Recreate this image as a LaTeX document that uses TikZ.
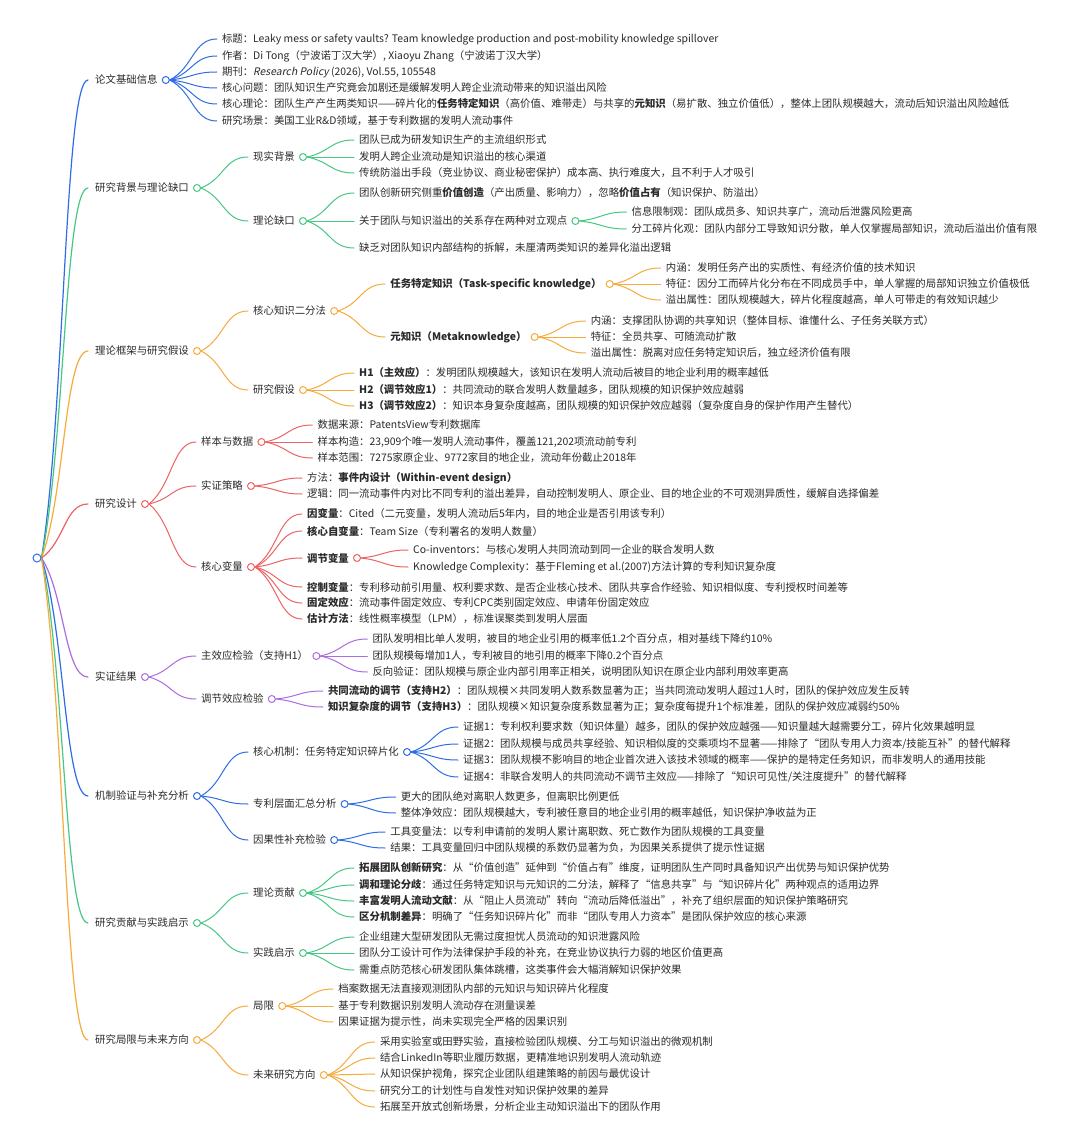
\documentclass[tikz,border=0pt]{standalone}
\usepackage{fontspec}
\setmainfont{Noto Sans CJK SC}
\newfontfamily\slantf[FakeSlant=0.2]{Noto Sans CJK SC}
\usetikzlibrary{calc}
\definecolor{cb}{RGB}{47,109,230}
\definecolor{cg}{RGB}{72,199,132}
\definecolor{co}{RGB}{246,171,60}
\definecolor{cr}{RGB}{236,100,100}
\definecolor{cp}{RGB}{170,110,225}
\definecolor{txt}{RGB}{42,42,42}
\pgfdeclarelayer{bg}
\pgfdeclarelayer{paper}
\pgfsetlayers{paper,bg,main}
\tikzset{
  lbl/.style={anchor=west, inner sep=0pt, text=txt, font=\fontsize{10.4}{12}\selectfont},
  knob/.style={circle, draw=#1, fill=white, line width=1pt, minimum size=7pt, inner sep=0pt},
  wire/.style={draw=#1, line width=1pt, line cap=round},
  trunkwire/.style={draw=#1, line width=1.2pt, line cap=round},
}
\newcommand\link[4][wire]{\begin{pgfonlayer}{bg}\draw[#1=#2] let \p1=(#3), \p2=(#4), \p3=($(\p1)!0.5!(\p2)$), \p4=($(\p1)!0.3!(\p2)$) in (\p1) .. controls (\x3,\y4) and (\x3,\y2) .. (\p2);\end{pgfonlayer}}
\newcommand\hub[2]{\node[knob=#2] (#1k) at ([xshift=8pt]#1.east) {}; \coordinate (#1c) at ([xshift=56pt]#1k.center);}
\newcommand\kid[5]{\node[lbl] (#1) at (#2c |- 0,#4) {#5}; \link{#3}{#2k.east}{[xshift=-5pt]#1.west}}
\newcommand\mainbranch[4]{\node[lbl] (#1) at (95,#3) {#4}; \hub{#1}{#2} \link[trunkwire]{#2}{root.east}{[xshift=-7pt]#1.west}}
\begin{document}
\begin{tikzpicture}[x=1pt,y=-1pt]
\begin{pgfonlayer}{paper}
\fill[white] (0,0) rectangle (1080,1145);
\end{pgfonlayer}
\useasboundingbox (0,0) rectangle (1080,1145);
\node[knob=cb, minimum size=8pt] (root) at (37,558) {};

% ---------- Branch 1
\mainbranch{b1}{cb}{80}{论文基础信息}
\kid{b1a}{b1}{cb}{39}{标题：Leaky mess or safety vaults? Team knowledge production and post-mobility knowledge spillover}
\kid{b1b}{b1}{cb}{56}{作者：Di Tong（宁波诺丁汉大学）, Xiaoyu Zhang（宁波诺丁汉大学）}
\kid{b1c1}{b1}{cb}{72}{期刊：{\slantf Research Policy} (2026), Vol.55, 105548}
\kid{b1d}{b1}{cb}{88}{核心问题：团队知识生产究竟会加剧还是缓解发明人跨企业流动带来的知识溢出风险}
\kid{b1e}{b1}{cb}{104}{核心理论：团队生产产生两类知识——碎片化的\textbf{任务特定知识}（高价值、难带走）与共享的\textbf{元知识}（易扩散、独立价值低），整体上团队规模越大，流动后知识溢出风险越低}
\kid{b1f}{b1}{cb}{121}{研究场景：美国工业R\&D领域，基于专利数据的发明人流动事件}

% ---------- Branch 2
\mainbranch{b2}{cg}{188}{研究背景与理论缺口}
\kid{b2a}{b2}{cg}{157}{现实背景}
\hub{b2a}{cg}
\kid{b2a1}{b2a}{cg}{140}{团队已成为研发知识生产的主流组织形式}
\kid{b2a2}{b2a}{cg}{157}{发明人跨企业流动是知识溢出的核心渠道}
\kid{b2a3}{b2a}{cg}{173}{传统防溢出手段（竞业协议、商业秘密保护）成本高、执行难度大，且不利于人才吸引}
\kid{b2b}{b2}{cg}{221}{理论缺口}
\hub{b2b}{cg}
\kid{b2b1}{b2b}{cg}{193}{团队创新研究侧重\textbf{价值创造}（产出质量、影响力），忽略\textbf{价值占有}（知识保护、防溢出）}
\kid{b2b2}{b2b}{cg}{221}{关于团队与知识溢出的关系存在两种对立观点}
\hub{b2b2}{cg}
\kid{b2b2a}{b2b2}{cg}{212}{信息限制观：团队成员多、知识共享广，流动后泄露风险更高}
\kid{b2b2b}{b2b2}{cg}{229}{分工碎片化观：团队内部分工导致知识分散，单人仅掌握局部知识，流动后溢出价值有限}
\kid{b2b3}{b2b}{cg}{248}{缺乏对团队知识内部结构的拆解，未厘清两类知识的差异化溢出逻辑}

% ---------- Branch 3
\mainbranch{b3}{co}{351}{理论框架与研究假设}
\kid{b3a}{b3}{co}{311}{核心知识二分法}
\hub{b3a}{co}
\kid{b3a1}{b3a}{co}{284}{\textbf{任务特定知识（Task-specific knowledge）}}
\hub{b3a1}{co}
\kid{b3a1a}{b3a1}{co}{268}{内涵：发明任务产出的实质性、有经济价值的技术知识}
\kid{b3a1b}{b3a1}{co}{284}{特征：因分工而碎片化分布在不同成员手中，单人掌握的局部知识独立价值极低}
\kid{b3a1c}{b3a1}{co}{300}{溢出属性：团队规模越大，碎片化程度越高，单人可带走的有效知识越少}
\kid{b3a2}{b3a}{co}{337}{\textbf{元知识（Metaknowledge）}}
\hub{b3a2}{co}
\kid{b3a2a}{b3a2}{co}{321}{内涵：支撑团队协调的共享知识（整体目标、谁懂什么、子任务关联方式）}
\kid{b3a2b}{b3a2}{co}{337}{特征：全员共享、可随流动扩散}
\kid{b3a2c}{b3a2}{co}{353}{溢出属性：脱离对应任务特定知识后，独立经济价值有限}
\kid{b3b}{b3}{co}{390}{研究假设}
\hub{b3b}{co}
\kid{b3b1}{b3b}{co}{373}{\textbf{H1（主效应）}：发明团队规模越大，该知识在发明人流动后被目的地企业利用的概率越低}
\kid{b3b2}{b3b}{co}{390}{\textbf{H2（调节效应1）}：共同流动的联合发明人数量越多，团队规模的知识保护效应越弱}
\kid{b3b3}{b3b}{co}{406}{\textbf{H3（调节效应2）}：知识本身复杂度越高，团队规模的知识保护效应越弱（复杂度自身的保护作用产生替代）}

% ---------- Branch 4
\mainbranch{b4}{cr}{504}{研究设计}
\kid{b4a}{b4}{cr}{442}{样本与数据}
\hub{b4a}{cr}
\kid{b4a1}{b4a}{cr}{425}{数据来源：PatentsView专利数据库}
\kid{b4a2}{b4a}{cr}{442}{样本构造：23,909个唯一发明人流动事件，覆盖121,202项流动前专利}
\kid{b4a3}{b4a}{cr}{458}{样本范围：7275家原企业、9772家目的地企业，流动年份截止2018年}
\kid{b4b}{b4}{cr}{486}{实证策略}
\hub{b4b}{cr}
\kid{b4b1}{b4b}{cr}{478}{方法：\textbf{事件内设计（Within-event design）}}
\kid{b4b2}{b4b}{cr}{494}{逻辑：同一流动事件内对比不同专利的溢出差异，自动控制发明人、原企业、目的地企业的不可观测异质性，缓解自选择偏差}
\kid{b4c}{b4}{cr}{567}{核心变量}
\hub{b4c}{cr}
\kid{b4c1}{b4c}{cr}{514}{\textbf{因变量}：Cited（二元变量，发明人流动后5年内，目的地企业是否引用该专利）}
\kid{b4c2}{b4c}{cr}{531}{\textbf{核心自变量}：Team Size（专利署名的发明人数量）}
\kid{b4c3}{b4c}{cr}{558}{\textbf{调节变量}}
\hub{b4c3}{cr}
\kid{b4c3a}{b4c3}{cr}{550}{Co-inventors：与核心发明人共同流动到同一企业的联合发明人数}
\kid{b4c3b}{b4c3}{cr}{567}{Knowledge Complexity：基于Fleming et al.(2007)方法计算的专利知识复杂度}
\kid{b4c4}{b4c}{cr}{587}{\textbf{控制变量}：专利移动前引用量、权利要求数、是否企业核心技术、团队共享合作经验、知识相似度、专利授权时间差等}
\kid{b4c5}{b4c}{cr}{603}{\textbf{固定效应}：流动事件固定效应、专利CPC类别固定效应、申请年份固定效应}
\kid{b4c6}{b4c}{cr}{619}{\textbf{估计方法}：线性概率模型（LPM），标准误聚类到发明人层面}

% ---------- Branch 5
\mainbranch{b5}{cp}{677}{实证结果}
\kid{b5a}{b5}{cp}{656}{主效应检验（支持H1）}
\hub{b5a}{cp}
\kid{b5a1}{b5a}{cp}{639}{团队发明相比单人发明，被目的地企业引用的概率低1.2个百分点，相对基线下降约10\%}
\kid{b5a2}{b5a}{cp}{656}{团队规模每增加1人，专利被目的地引用的概率下降0.2个百分点}
\kid{b5a3}{b5a}{cp}{672}{反向验证：团队规模与原企业内部引用率正相关，说明团队知识在原企业内部利用效率更高}
\kid{b5b}{b5}{cp}{699}{调节效应检验}
\hub{b5b}{cp}
\kid{b5b1}{b5b}{cp}{691}{\textbf{共同流动的调节（支持H2）}：团队规模×共同发明人数系数显著为正；当共同流动发明人超过1人时，团队的保护效应发生反转}
\kid{b5b2}{b5b}{cp}{707}{\textbf{知识复杂度的调节（支持H3）}：团队规模×知识复杂度系数显著为正；复杂度每提升1个标准差，团队的保护效应减弱约50\%}

% ---------- Branch 6
\mainbranch{b6}{cb}{796}{机制验证与补充分析}
\kid{b6a}{b6}{cb}{752}{核心机制：任务特定知识碎片化}
\hub{b6a}{cb}
\kid{b6a1}{b6a}{cb}{727}{证据1：专利权利要求数（知识体量）越多，团队的保护效应越强——知识量越大越需要分工，碎片化效果越明显}
\kid{b6a2}{b6a}{cb}{744}{证据2：团队规模与成员共享经验、知识相似度的交乘项均不显著——排除了“团队专用人力资本/技能互补”的替代解释}
\kid{b6a3}{b6a}{cb}{760}{证据3：团队规模不影响目的地企业首次进入该技术领域的概率——保护的是特定任务知识，而非发明人的通用技能}
\kid{b6a4}{b6a}{cb}{777}{证据4：非联合发明人的共同流动不调节主效应——排除了“知识可见性/关注度提升”的替代解释}
\kid{b6b}{b6}{cb}{804}{专利层面汇总分析}
\hub{b6b}{cb}
\kid{b6b1}{b6b}{cb}{797}{更大的团队绝对离职人数更多，但离职比例更低}
\kid{b6b2}{b6b}{cb}{813}{整体净效应：团队规模越大，专利被任意目的地企业引用的概率越低，知识保护净收益为正}
\kid{b6c}{b6}{cb}{840}{因果性补充检验}
\hub{b6c}{cb}
\kid{b6c1}{b6c}{cb}{832}{工具变量法：以专利申请前的发明人累计离职数、死亡数作为团队规模的工具变量}
\kid{b6c2}{b6c}{cb}{848}{结果：工具变量回归中团队规模的系数仍显著为负，为因果关系提供了提示性证据}

% ---------- Branch 7
\mainbranch{b7}{cg}{923}{研究贡献与实践启示}
\kid{b7a}{b7}{cg}{893}{理论贡献}
\hub{b7a}{cg}
\kid{b7a1}{b7a}{cg}{868}{\textbf{拓展团队创新研究}：从“价值创造”延伸到“价值占有”维度，证明团队生产同时具备知识产出优势与知识保护优势}
\kid{b7a2}{b7a}{cg}{885}{\textbf{调和理论分歧}：通过任务特定知识与元知识的二分法，解释了“信息共享”与“知识碎片化”两种观点的适用边界}
\kid{b7a3}{b7a}{cg}{901}{\textbf{丰富发明人流动文献}：从“阻止人员流动”转向“流动后降低溢出”，补充了组织层面的知识保护策略研究}
\kid{b7a4}{b7a}{cg}{917}{\textbf{区分机制差异}：明确了“任务知识碎片化”而非“团队专用人力资本”是团队保护效应的核心来源}
\kid{b7b}{b7}{cg}{953}{实践启示}
\hub{b7b}{cg}
\kid{b7b1}{b7b}{cg}{937}{企业组建大型研发团队无需过度担忧人员流动的知识泄露风险}
\kid{b7b2}{b7b}{cg}{953}{团队分工设计可作为法律保护手段的补充，在竞业协议执行力弱的地区价值更高}
\kid{b7b3}{b7b}{cg}{970}{需重点防范核心研发团队集体跳槽，这类事件会大幅消解知识保护效果}

% ---------- Branch 8
\mainbranch{b8}{co}{1040}{研究局限与未来方向}
\kid{b8a}{b8}{co}{1006}{局限}
\hub{b8a}{co}
\kid{b8a1}{b8a}{co}{989}{档案数据无法直接观测团队内部的元知识与知识碎片化程度}
\kid{b8a2}{b8a}{co}{1006}{基于专利数据识别发明人流动存在测量误差}
\kid{b8a3}{b8a}{co}{1022}{因果证据为提示性，尚未实现完全严格的因果识别}
\kid{b8b}{b8}{co}{1075}{未来研究方向}
\hub{b8b}{co}
\kid{b8b1}{b8b}{co}{1042}{采用实验室或田野实验，直接检验团队规模、分工与知识溢出的微观机制}
\kid{b8b2}{b8b}{co}{1058}{结合LinkedIn等职业履历数据，更精准地识别发明人流动轨迹}
\kid{b8b3}{b8b}{co}{1074}{从知识保护视角，探究企业团队组建策略的前因与最优设计}
\kid{b8b4}{b8b}{co}{1091}{研究分工的计划性与自发性对知识保护效果的差异}
\kid{b8b5}{b8b}{co}{1107}{拓展至开放式创新场景，分析企业主动知识溢出下的团队作用}
\end{tikzpicture}
\end{document}
